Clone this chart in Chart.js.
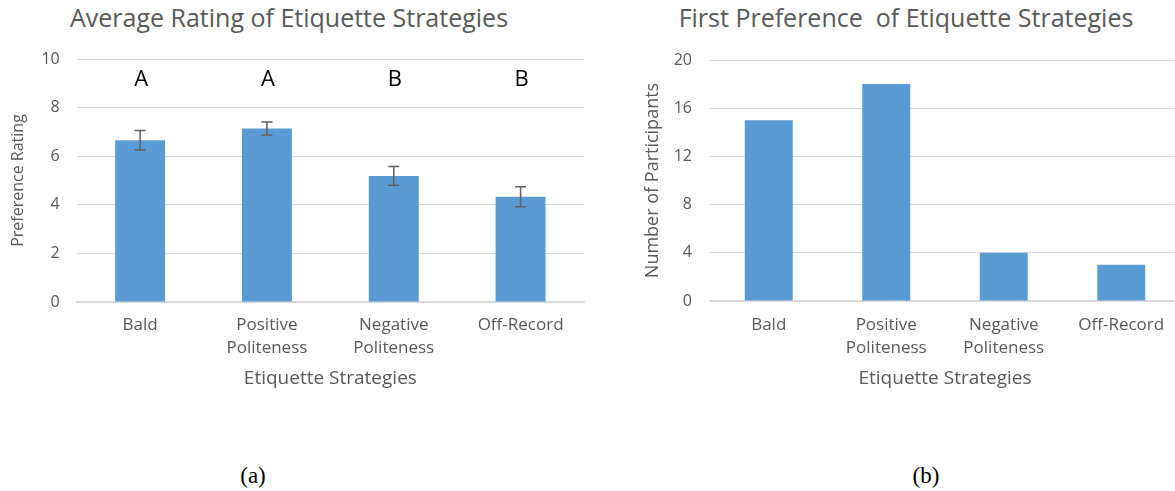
<!DOCTYPE html>
<html>
<head>
<meta charset="utf-8">
<script src="https://cdn.jsdelivr.net/npm/chart.js@4.4.1/dist/chart.umd.min.js"></script>
<style>
html,body{margin:0;padding:0;background:#fff;overflow:hidden;width:1175px;height:491px;}
#wrap{position:relative;width:1175px;height:491px;overflow:hidden;background:#fff;}
.box{position:absolute;top:0;width:600px;height:400px;}
.title{position:absolute;top:2px;font-family:'Open Sans',sans-serif;font-size:25px;line-height:30px;color:#595959;white-space:pre;transform:translateX(-50%);}
.cap{position:absolute;top:462px;font-family:'Liberation Serif','Times New Roman',serif;font-size:23px;line-height:28px;color:#000;transform:translateX(-50%);}
</style>
</head>
<body>
<div id="wrap">
  <div class="title" style="left:289px;">Average Rating of Etiquette Strategies</div>
  <div class="title" style="left:906px;">First Preference  of Etiquette Strategies</div>
  <div class="box" style="left:0px;"><canvas id="c1"></canvas></div>
  <div class="box" style="left:600px;"><canvas id="c2"></canvas></div>
  <div class="cap" style="left:253px;">(a)</div>
  <div class="cap" style="left:926px;">(b)</div>
</div>
<script>
// ---- data ----
const categories = ['Bald', ['Positive', 'Politeness'], ['Negative', 'Politeness'], 'Off-Record'];
const ratingMeans = [6.66, 7.14, 5.19, 4.33];
const ratingErrors = [0.40, 0.27, 0.39, 0.41];
const groupLetters = ['A', 'A', 'B', 'B'];
const firstPrefCounts = [15, 18, 4, 3];
const ratingTicks = [0, 2, 4, 6, 8, 10];
const countTicks = [0, 4, 8, 12, 16, 20];

// ---- styles ----
const BAR = '#5B9BD5';
const TXT = '#595959';
const GRID = '#D9D9D9';
const FONT = "'Open Sans', sans-serif";

const errorBarPlugin = {
  id: 'errorBars',
  afterDatasetsDraw(chart, args, opts) {
    if (!opts || !opts.errors) return;
    const ctx = chart.ctx;
    const meta = chart.getDatasetMeta(0);
    const ys = chart.scales.y;
    const vals = chart.data.datasets[0].data;
    ctx.save();
    ctx.strokeStyle = '#5f5f5f';
    ctx.lineWidth = 1.5;
    meta.data.forEach((bar, i) => {
      const v = vals[i], e = opts.errors[i];
      const yt = ys.getPixelForValue(v + e);
      const yb = ys.getPixelForValue(v - e);
      const x = bar.x;
      const hw = opts.capHalfWidth || 5.5;
      ctx.beginPath();
      ctx.moveTo(x, yt); ctx.lineTo(x, yb);
      ctx.moveTo(x - hw, yt); ctx.lineTo(x + hw, yt);
      ctx.moveTo(x - hw, yb); ctx.lineTo(x + hw, yb);
      ctx.stroke();
    });
    ctx.restore();
  }
};

const letterPlugin = {
  id: 'groupLetters',
  afterDatasetsDraw(chart, args, opts) {
    if (!opts || !opts.letters) return;
    const ctx = chart.ctx;
    const meta = chart.getDatasetMeta(0);
    const ys = chart.scales.y;
    ctx.save();
    ctx.fillStyle = '#000';
    ctx.font = "22px " + FONT;
    ctx.textAlign = 'center';
    ctx.textBaseline = 'middle';
    meta.data.forEach((bar, i) => {
      ctx.fillText(opts.letters[i], bar.x + 1, ys.getPixelForValue(opts.atValue));
    });
    ctx.restore();
  }
};

function makeChart(id, values, ticks, yTitle, cfg) {
  return new Chart(document.getElementById(id), {
    type: 'bar',
    data: {
      labels: categories,
      datasets: [{
        data: values,
        backgroundColor: BAR,
        borderWidth: 0,
        categoryPercentage: 1,
        barPercentage: cfg.barPct
      }]
    },
    plugins: [errorBarPlugin, letterPlugin],
    options: {
      responsive: true,
      maintainAspectRatio: false,
      animation: false,
      layout: { padding: { top: cfg.padTop, right: cfg.padRight, bottom: 9.6, left: 0 } },
      plugins: {
        legend: { display: false },
        tooltip: { enabled: false },
        title: { display: false },
        errorBars: cfg.errorBars,
        groupLetters: cfg.letters
      },
      scales: {
        x: {
          grid: { display: false, drawTicks: false },
          border: { display: true, color: GRID, width: 1.5 },
          ticks: {
            color: TXT, padding: cfg.xTickPad, maxRotation: 0, autoSkip: false,
            font: { family: FONT, size: 17, lineHeight: 22.5 / 17 }
          },
          title: {
            display: true, text: 'Etiquette Strategies', color: TXT,
            font: { family: FONT, size: 19, lineHeight: 1.2 },
            padding: { top: 0, bottom: 0 }
          },
          afterFit(scale) { scale.height = cfg.xHeight; }
        },
        y: {
          min: ticks[0], max: ticks[ticks.length - 1],
          afterBuildTicks(scale) { scale.ticks = ticks.map(v => ({ value: v })); },
          grid: { color: GRID, lineWidth: 1, drawTicks: false },
          border: { display: false },
          ticks: {
            color: TXT, padding: cfg.tickPad,
            font: { family: FONT, size: 16 }
          },
          title: {
            display: true, text: yTitle, color: TXT,
            font: { family: FONT, size: cfg.yTitleSize, lineHeight: 1.2 },
            padding: { top: cfg.titlePad, bottom: 0 }
          },
          afterFit(scale) { scale.width = cfg.yWidth; }
        }
      }
    }
  });
}

makeChart('c1', ratingMeans, ratingTicks, 'Preference Rating', {
  barPct: 0.394, padTop: 59, padRight: 16, xHeight: 88.4, xTickPad: 12,
  yWidth: 76.7, tickPad: 17, titlePad: 8.7, yTitleSize: 16,
  errorBars: { errors: ratingErrors, capHalfWidth: 5.5 },
  letters: { letters: groupLetters, atValue: 9.14 }
});

makeChart('c2', firstPrefCounts, countTicks, 'Number of Participants', {
  barPct: 0.408, padTop: 60, padRight: 20, xHeight: 89.4, xTickPad: 13,
  yWidth: 110, tickPad: 18, titlePad: 42.2, yTitleSize: 18,
  errorBars: false,
  letters: false
});
</script>
</body>
</html>
